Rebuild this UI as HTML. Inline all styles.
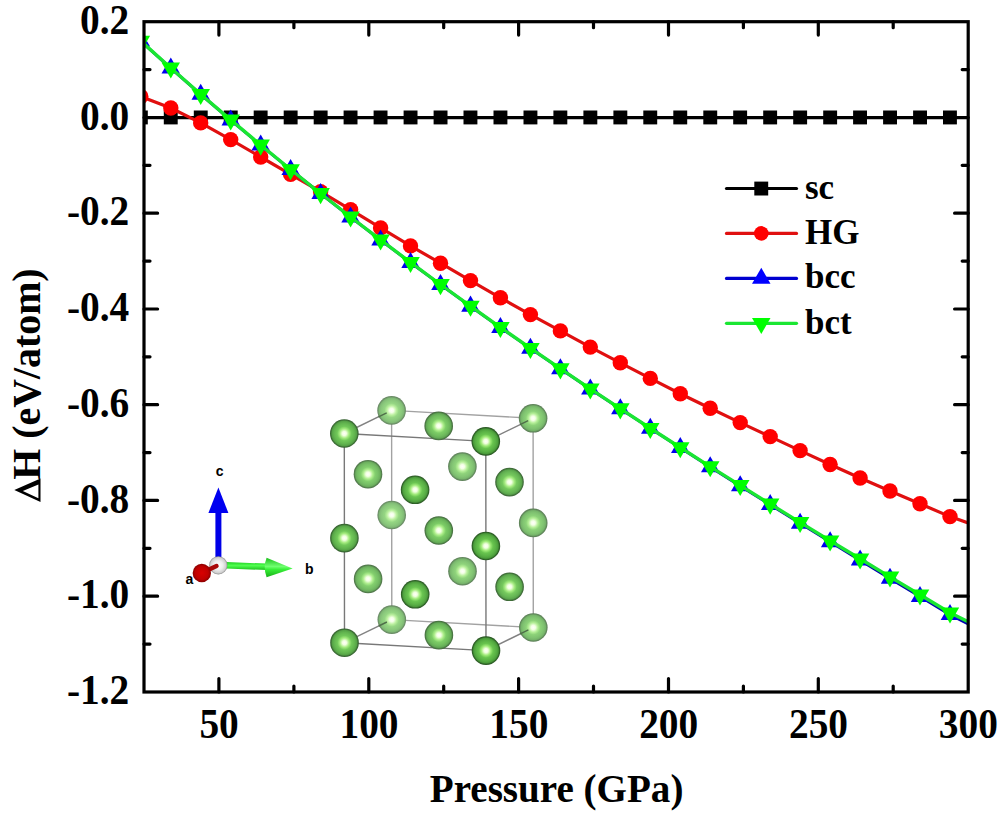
<!DOCTYPE html>
<html><head><meta charset="utf-8"><style>
html,body{margin:0;padding:0;background:#fff;}
svg{display:block;}
</style></head><body>
<svg width="1000" height="815" viewBox="0 0 1000 815">
<defs><radialGradient id="s0" cx="0.5" cy="0.5" r="0.5"><stop offset="0" stop-color="#fffffc"/><stop offset="0.15" stop-color="#f4ffe8"/><stop offset="0.33" stop-color="#bbf09f"/><stop offset="0.5" stop-color="#95d683"/><stop offset="0.72" stop-color="#8ac87c"/><stop offset="0.86" stop-color="#80ba75"/><stop offset="0.92" stop-color="#729c6b"/><stop offset="1.0" stop-color="#648360"/></radialGradient><radialGradient id="s1" cx="0.5" cy="0.5" r="0.5"><stop offset="0" stop-color="#fffffc"/><stop offset="0.15" stop-color="#f4ffe8"/><stop offset="0.33" stop-color="#bbf09f"/><stop offset="0.5" stop-color="#95d683"/><stop offset="0.72" stop-color="#8ac87c"/><stop offset="0.86" stop-color="#80ba75"/><stop offset="0.92" stop-color="#729c6b"/><stop offset="1.0" stop-color="#648360"/></radialGradient><radialGradient id="s2" cx="0.5" cy="0.5" r="0.5"><stop offset="0" stop-color="#fffffc"/><stop offset="0.15" stop-color="#f4ffe8"/><stop offset="0.33" stop-color="#bbf09f"/><stop offset="0.5" stop-color="#95d683"/><stop offset="0.72" stop-color="#8ac87c"/><stop offset="0.86" stop-color="#80ba75"/><stop offset="0.92" stop-color="#729c6b"/><stop offset="1.0" stop-color="#648360"/></radialGradient><radialGradient id="s3" cx="0.5" cy="0.5" r="0.5"><stop offset="0" stop-color="#fffffb"/><stop offset="0.15" stop-color="#f4ffe6"/><stop offset="0.33" stop-color="#b7ef99"/><stop offset="0.5" stop-color="#8fd37b"/><stop offset="0.72" stop-color="#83c474"/><stop offset="0.86" stop-color="#78b56c"/><stop offset="0.92" stop-color="#699662"/><stop offset="1.0" stop-color="#5a7b56"/></radialGradient><radialGradient id="s4" cx="0.5" cy="0.5" r="0.5"><stop offset="0" stop-color="#fffffb"/><stop offset="0.15" stop-color="#f4ffe6"/><stop offset="0.33" stop-color="#b7ef99"/><stop offset="0.5" stop-color="#8fd37b"/><stop offset="0.72" stop-color="#83c474"/><stop offset="0.86" stop-color="#78b56c"/><stop offset="0.92" stop-color="#699662"/><stop offset="1.0" stop-color="#5a7b56"/></radialGradient><radialGradient id="s5" cx="0.5" cy="0.5" r="0.5"><stop offset="0" stop-color="#fffffb"/><stop offset="0.15" stop-color="#f4ffe6"/><stop offset="0.33" stop-color="#b5ef97"/><stop offset="0.5" stop-color="#8cd278"/><stop offset="0.72" stop-color="#80c371"/><stop offset="0.86" stop-color="#75b469"/><stop offset="0.92" stop-color="#66945f"/><stop offset="1.0" stop-color="#577852"/></radialGradient><radialGradient id="s6" cx="0.5" cy="0.5" r="0.5"><stop offset="0" stop-color="#fffffb"/><stop offset="0.15" stop-color="#f4ffe6"/><stop offset="0.33" stop-color="#b5ef97"/><stop offset="0.5" stop-color="#8cd278"/><stop offset="0.72" stop-color="#80c371"/><stop offset="0.86" stop-color="#75b469"/><stop offset="0.92" stop-color="#66945f"/><stop offset="1.0" stop-color="#577852"/></radialGradient><radialGradient id="s7" cx="0.5" cy="0.5" r="0.5"><stop offset="0" stop-color="#fffffb"/><stop offset="0.15" stop-color="#f4ffe6"/><stop offset="0.33" stop-color="#b5ef97"/><stop offset="0.5" stop-color="#8cd278"/><stop offset="0.72" stop-color="#80c371"/><stop offset="0.86" stop-color="#75b469"/><stop offset="0.92" stop-color="#66945f"/><stop offset="1.0" stop-color="#577852"/></radialGradient><radialGradient id="s8" cx="0.5" cy="0.5" r="0.5"><stop offset="0" stop-color="#fffffb"/><stop offset="0.15" stop-color="#f3ffe4"/><stop offset="0.33" stop-color="#afee8f"/><stop offset="0.5" stop-color="#83cf6e"/><stop offset="0.72" stop-color="#76be66"/><stop offset="0.86" stop-color="#6bae5d"/><stop offset="0.92" stop-color="#5a8b52"/><stop offset="1.0" stop-color="#4a6e45"/></radialGradient><radialGradient id="s9" cx="0.5" cy="0.5" r="0.5"><stop offset="0" stop-color="#fffffb"/><stop offset="0.15" stop-color="#f3ffe4"/><stop offset="0.33" stop-color="#afee8f"/><stop offset="0.5" stop-color="#83cf6e"/><stop offset="0.72" stop-color="#76be66"/><stop offset="0.86" stop-color="#6bae5d"/><stop offset="0.92" stop-color="#5a8b52"/><stop offset="1.0" stop-color="#4a6e45"/></radialGradient><radialGradient id="s10" cx="0.5" cy="0.5" r="0.5"><stop offset="0" stop-color="#fffffb"/><stop offset="0.15" stop-color="#f2ffe2"/><stop offset="0.33" stop-color="#abed88"/><stop offset="0.5" stop-color="#7ccc66"/><stop offset="0.72" stop-color="#6fbb5d"/><stop offset="0.86" stop-color="#62a955"/><stop offset="0.92" stop-color="#518548"/><stop offset="1.0" stop-color="#40663b"/></radialGradient><radialGradient id="s11" cx="0.5" cy="0.5" r="0.5"><stop offset="0" stop-color="#fffffb"/><stop offset="0.15" stop-color="#f2ffe2"/><stop offset="0.33" stop-color="#abed88"/><stop offset="0.5" stop-color="#7ccc66"/><stop offset="0.72" stop-color="#6fbb5d"/><stop offset="0.86" stop-color="#62a955"/><stop offset="0.92" stop-color="#518548"/><stop offset="1.0" stop-color="#40663b"/></radialGradient><radialGradient id="s12" cx="0.5" cy="0.5" r="0.5"><stop offset="0" stop-color="#fffffb"/><stop offset="0.15" stop-color="#f2ffe2"/><stop offset="0.33" stop-color="#abed88"/><stop offset="0.5" stop-color="#7ccc66"/><stop offset="0.72" stop-color="#6fbb5d"/><stop offset="0.86" stop-color="#62a955"/><stop offset="0.92" stop-color="#518548"/><stop offset="1.0" stop-color="#40663b"/></radialGradient><radialGradient id="s13" cx="0.5" cy="0.5" r="0.5"><stop offset="0" stop-color="#fffffa"/><stop offset="0.15" stop-color="#f1ffe1"/><stop offset="0.33" stop-color="#a7ec82"/><stop offset="0.5" stop-color="#76c95e"/><stop offset="0.72" stop-color="#67b755"/><stop offset="0.86" stop-color="#5aa54c"/><stop offset="0.92" stop-color="#487f3f"/><stop offset="1.0" stop-color="#365e30"/></radialGradient><radialGradient id="s14" cx="0.5" cy="0.5" r="0.5"><stop offset="0" stop-color="#fffffa"/><stop offset="0.15" stop-color="#f1ffe1"/><stop offset="0.33" stop-color="#a7ec82"/><stop offset="0.5" stop-color="#76c95e"/><stop offset="0.72" stop-color="#67b755"/><stop offset="0.86" stop-color="#5aa54c"/><stop offset="0.92" stop-color="#487f3f"/><stop offset="1.0" stop-color="#365e30"/></radialGradient><radialGradient id="s15" cx="0.5" cy="0.5" r="0.5"><stop offset="0" stop-color="#fffffa"/><stop offset="0.15" stop-color="#f1ffe0"/><stop offset="0.33" stop-color="#a4eb7e"/><stop offset="0.5" stop-color="#71c859"/><stop offset="0.72" stop-color="#62b54f"/><stop offset="0.86" stop-color="#55a246"/><stop offset="0.92" stop-color="#427a39"/><stop offset="1.0" stop-color="#2f592a"/></radialGradient><radialGradient id="s16" cx="0.5" cy="0.5" r="0.5"><stop offset="0" stop-color="#fffffa"/><stop offset="0.15" stop-color="#f1ffe0"/><stop offset="0.33" stop-color="#a4eb7e"/><stop offset="0.5" stop-color="#71c859"/><stop offset="0.72" stop-color="#62b54f"/><stop offset="0.86" stop-color="#55a246"/><stop offset="0.92" stop-color="#427a39"/><stop offset="1.0" stop-color="#2f592a"/></radialGradient><radialGradient id="s17" cx="0.5" cy="0.5" r="0.5"><stop offset="0" stop-color="#fffffa"/><stop offset="0.15" stop-color="#f1ffe0"/><stop offset="0.33" stop-color="#a4eb7e"/><stop offset="0.5" stop-color="#71c859"/><stop offset="0.72" stop-color="#62b54f"/><stop offset="0.86" stop-color="#55a246"/><stop offset="0.92" stop-color="#427a39"/><stop offset="1.0" stop-color="#2f592a"/></radialGradient><radialGradient id="s18" cx="0.5" cy="0.5" r="0.5"><stop offset="0" stop-color="#fffffa"/><stop offset="0.15" stop-color="#f0ffde"/><stop offset="0.33" stop-color="#9fea78"/><stop offset="0.5" stop-color="#6ac551"/><stop offset="0.72" stop-color="#5bb147"/><stop offset="0.86" stop-color="#4d9d3d"/><stop offset="0.92" stop-color="#39742f"/><stop offset="1.0" stop-color="#25511f"/></radialGradient><radialGradient id="s19" cx="0.5" cy="0.5" r="0.5"><stop offset="0" stop-color="#fffffa"/><stop offset="0.15" stop-color="#f0ffde"/><stop offset="0.33" stop-color="#9fea78"/><stop offset="0.5" stop-color="#6ac551"/><stop offset="0.72" stop-color="#5bb147"/><stop offset="0.86" stop-color="#4d9d3d"/><stop offset="0.92" stop-color="#39742f"/><stop offset="1.0" stop-color="#25511f"/></radialGradient><radialGradient id="s20" cx="0.5" cy="0.5" r="0.5"><stop offset="0" stop-color="#fffffa"/><stop offset="0.15" stop-color="#f0ffde"/><stop offset="0.33" stop-color="#9eea76"/><stop offset="0.5" stop-color="#68c44e"/><stop offset="0.72" stop-color="#58b044"/><stop offset="0.86" stop-color="#4a9c3a"/><stop offset="0.92" stop-color="#36722c"/><stop offset="1.0" stop-color="#224e1c"/></radialGradient><radialGradient id="s21" cx="0.5" cy="0.5" r="0.5"><stop offset="0" stop-color="#fffffa"/><stop offset="0.15" stop-color="#f0ffde"/><stop offset="0.33" stop-color="#9eea76"/><stop offset="0.5" stop-color="#68c44e"/><stop offset="0.72" stop-color="#58b044"/><stop offset="0.86" stop-color="#4a9c3a"/><stop offset="0.92" stop-color="#36722c"/><stop offset="1.0" stop-color="#224e1c"/></radialGradient><radialGradient id="s22" cx="0.5" cy="0.5" r="0.5"><stop offset="0" stop-color="#fffffa"/><stop offset="0.15" stop-color="#f0ffde"/><stop offset="0.33" stop-color="#9eea76"/><stop offset="0.5" stop-color="#68c44e"/><stop offset="0.72" stop-color="#58b044"/><stop offset="0.86" stop-color="#4a9c3a"/><stop offset="0.92" stop-color="#36722c"/><stop offset="1.0" stop-color="#224e1c"/></radialGradient>
<linearGradient id="gh" x1="0" y1="0" x2="0" y2="1"><stop offset="0" stop-color="#1cc01c"/><stop offset="0.45" stop-color="#70ff70"/><stop offset="0.6" stop-color="#38f038"/><stop offset="1" stop-color="#18b018"/></linearGradient>
<linearGradient id="gs" gradientUnits="userSpaceOnUse" x1="0" y1="562" x2="0" y2="570"><stop offset="0" stop-color="#22d022"/><stop offset="0.45" stop-color="#50ff50"/><stop offset="1" stop-color="#1cc01c"/></linearGradient>
<radialGradient id="gw" cx="0.5" cy="0.5" r="0.5">
 <stop offset="0" stop-color="#ffffff"/><stop offset="0.5" stop-color="#eeeeee"/><stop offset="0.85" stop-color="#cfcfcf"/><stop offset="1" stop-color="#8a8a8a"/>
</radialGradient>
<radialGradient id="gr" cx="0.5" cy="0.5" r="0.5">
 <stop offset="0" stop-color="#d80000"/><stop offset="0.7" stop-color="#c00000"/><stop offset="1" stop-color="#8a0000"/>
</radialGradient>

<clipPath id="pc"><rect x="144.0" y="21.7" width="824.2" height="670.3"/></clipPath>
</defs>
<rect width="1000" height="815" fill="#fff"/>

<path d="M391.6,410.4L533.1,418.3M533.1,418.3L533.3,627.5M533.3,627.5L391.8,619.6M391.8,619.6L391.6,410.4" stroke="#a2a2a2" stroke-width="1.4" fill="none"/>
<path d="M344.3,433.5L391.6,410.4M485.8,441.4L533.1,418.3M486.0,650.6L533.3,627.5M344.5,642.7L391.8,619.6" stroke="#828282" stroke-width="1.4" fill="none"/>
<path d="M344.3,433.5L485.8,441.4M485.8,441.4L486.0,650.6M486.0,650.6L344.5,642.7M344.5,642.7L344.3,433.5" stroke="#787878" stroke-width="1.4" fill="none"/>
<circle cx="391.6" cy="410.4" r="14.3" fill="url(#s0)"/><circle cx="391.7" cy="515.0" r="14.3" fill="url(#s1)"/><circle cx="391.8" cy="619.6" r="14.3" fill="url(#s2)"/><circle cx="462.4" cy="466.6" r="14.3" fill="url(#s3)"/><circle cx="462.5" cy="571.2" r="14.3" fill="url(#s4)"/><circle cx="533.1" cy="418.3" r="14.3" fill="url(#s5)"/><circle cx="533.2" cy="522.9" r="14.3" fill="url(#s6)"/><circle cx="533.3" cy="627.5" r="14.3" fill="url(#s7)"/><circle cx="368.0" cy="474.2" r="14.3" fill="url(#s8)"/><circle cx="368.1" cy="578.9" r="14.3" fill="url(#s9)"/><circle cx="438.7" cy="425.9" r="14.3" fill="url(#s10)"/><circle cx="438.9" cy="635.1" r="14.3" fill="url(#s11)"/><circle cx="438.8" cy="530.5" r="14.3" fill="url(#s12)"/><circle cx="509.5" cy="482.1" r="14.3" fill="url(#s13)"/><circle cx="509.6" cy="586.8" r="14.3" fill="url(#s14)"/><circle cx="344.3" cy="433.5" r="14.3" fill="url(#s15)"/><circle cx="344.4" cy="538.1" r="14.3" fill="url(#s16)"/><circle cx="344.5" cy="642.7" r="14.3" fill="url(#s17)"/><circle cx="415.1" cy="489.8" r="14.3" fill="url(#s18)"/><circle cx="415.2" cy="594.3" r="14.3" fill="url(#s19)"/><circle cx="485.8" cy="441.4" r="14.3" fill="url(#s20)"/><circle cx="485.9" cy="546.0" r="14.3" fill="url(#s21)"/><circle cx="486.0" cy="650.6" r="14.3" fill="url(#s22)"/>
<path d="M378.5,416.8L386.7,412.8M520.0,424.7L528.2,420.7M520.2,633.9L528.4,629.9M378.7,626.0L386.9,622.0" stroke="#4f6e49" stroke-width="1.4" fill="none"/>


<path d="M218.4,557 V512" stroke="#0000e8" stroke-width="6"/>
<polygon points="218.4,487.6 228.4,513 208.4,513" fill="#0000f0"/>
<path d="M226,565.3 L267,566.8" stroke="url(#gs)" stroke-width="6.5"/>
<path d="M266.6,557.8 Q262.8,567.4 266.6,577.2 L292.6,568.4 Z" fill="url(#gh)"/>
<circle cx="218.3" cy="565.3" r="9.1" fill="url(#gw)"/>
<path d="M216.5,566 L208,570" stroke="#a80808" stroke-width="4.4" stroke-linecap="round"/>
<circle cx="201.8" cy="573" r="9.2" fill="url(#gr)"/>
<g font-family="Liberation Sans, sans-serif" font-weight="bold" font-size="14" fill="#000">
<text x="219.6" y="476" text-anchor="middle">c</text>
<text x="309.2" y="574" text-anchor="middle">b</text>
<text x="189.4" y="584" text-anchor="middle">a</text>
</g>

<g clip-path="url(#pc)">
<polyline points="140,117.6 972,117.6" fill="none" stroke="#000" stroke-width="3.2"/>
<g fill="#000"><rect x="133.9" y="110.5" width="13.9" height="13.9"/><rect x="163.8" y="110.5" width="13.9" height="13.9"/><rect x="193.8" y="110.5" width="13.9" height="13.9"/><rect x="223.8" y="110.5" width="13.9" height="13.9"/><rect x="253.7" y="110.5" width="13.9" height="13.9"/><rect x="283.7" y="110.5" width="13.9" height="13.9"/><rect x="313.7" y="110.5" width="13.9" height="13.9"/><rect x="343.6" y="110.5" width="13.9" height="13.9"/><rect x="373.6" y="110.5" width="13.9" height="13.9"/><rect x="403.6" y="110.5" width="13.9" height="13.9"/><rect x="433.6" y="110.5" width="13.9" height="13.9"/><rect x="463.5" y="110.5" width="13.9" height="13.9"/><rect x="493.5" y="110.5" width="13.9" height="13.9"/><rect x="523.5" y="110.5" width="13.9" height="13.9"/><rect x="553.4" y="110.5" width="13.9" height="13.9"/><rect x="583.4" y="110.5" width="13.9" height="13.9"/><rect x="613.4" y="110.5" width="13.9" height="13.9"/><rect x="643.3" y="110.5" width="13.9" height="13.9"/><rect x="673.3" y="110.5" width="13.9" height="13.9"/><rect x="703.3" y="110.5" width="13.9" height="13.9"/><rect x="733.2" y="110.5" width="13.9" height="13.9"/><rect x="763.2" y="110.5" width="13.9" height="13.9"/><rect x="793.2" y="110.5" width="13.9" height="13.9"/><rect x="823.2" y="110.5" width="13.9" height="13.9"/><rect x="853.1" y="110.5" width="13.9" height="13.9"/><rect x="883.1" y="110.5" width="13.9" height="13.9"/><rect x="913.1" y="110.5" width="13.9" height="13.9"/><rect x="943.0" y="110.5" width="13.9" height="13.9"/></g>
<polyline points="140.8,96.5 170.8,108.0 200.7,122.9 230.7,139.6 260.7,157.0 290.6,174.4 320.6,191.7 350.6,209.7 380.6,227.9 410.5,245.9 440.5,263.2 470.5,280.6 500.4,297.8 530.4,314.6 560.4,330.9 590.3,347.1 620.3,362.8 650.3,378.4 680.3,393.7 710.2,408.3 740.2,422.6 770.2,436.6 800.1,450.6 830.1,464.5 860.1,478.0 890.0,491.0 920.0,503.8 950.0,516.6 970.7,523.9" fill="none" stroke="#e01010" stroke-width="3.2" stroke-linejoin="round"/>
<g fill="#ff0000"><circle cx="140.8" cy="96.5" r="7.7"/><circle cx="170.8" cy="108.0" r="7.7"/><circle cx="200.7" cy="122.9" r="7.7"/><circle cx="230.7" cy="139.6" r="7.7"/><circle cx="260.7" cy="157.0" r="7.7"/><circle cx="290.6" cy="174.4" r="7.7"/><circle cx="320.6" cy="191.7" r="7.7"/><circle cx="350.6" cy="209.7" r="7.7"/><circle cx="380.6" cy="227.9" r="7.7"/><circle cx="410.5" cy="245.9" r="7.7"/><circle cx="440.5" cy="263.2" r="7.7"/><circle cx="470.5" cy="280.6" r="7.7"/><circle cx="500.4" cy="297.8" r="7.7"/><circle cx="530.4" cy="314.6" r="7.7"/><circle cx="560.4" cy="330.9" r="7.7"/><circle cx="590.3" cy="347.1" r="7.7"/><circle cx="620.3" cy="362.8" r="7.7"/><circle cx="650.3" cy="378.4" r="7.7"/><circle cx="680.3" cy="393.7" r="7.7"/><circle cx="710.2" cy="408.3" r="7.7"/><circle cx="740.2" cy="422.6" r="7.7"/><circle cx="770.2" cy="436.6" r="7.7"/><circle cx="800.1" cy="450.6" r="7.7"/><circle cx="830.1" cy="464.5" r="7.7"/><circle cx="860.1" cy="478.0" r="7.7"/><circle cx="890.0" cy="491.0" r="7.7"/><circle cx="920.0" cy="503.8" r="7.7"/><circle cx="950.0" cy="516.6" r="7.7"/></g>
<polyline points="140.8,41.2 170.8,68.1 200.7,94.4 230.7,120.1 260.7,145.2 290.6,169.7 320.6,193.7 350.6,217.2 380.6,240.1 410.5,262.6 440.5,284.7 470.5,306.3 500.4,327.6 530.4,348.4 560.4,368.9 590.3,389.0 620.3,408.9 650.3,428.4 680.3,447.7 710.2,467.0 740.2,486.0 770.2,504.8 800.1,523.4 830.1,541.9 860.1,560.2 890.0,578.5 920.0,596.6 950.0,614.7 970.7,625.2" fill="none" stroke="#0000b0" stroke-width="2.8" stroke-linejoin="round"/>
<g fill="#0000ee"><polygon points="140.8,30.6 150.1,46.6 131.6,46.6"/><polygon points="170.8,57.5 180.0,73.5 161.5,73.5"/><polygon points="200.7,83.7 210.0,99.8 191.5,99.8"/><polygon points="230.7,109.4 240.0,125.4 221.5,125.4"/><polygon points="260.7,134.5 269.9,150.5 251.4,150.5"/><polygon points="290.6,159.0 299.9,175.0 281.4,175.0"/><polygon points="320.6,183.0 329.9,199.0 311.4,199.0"/><polygon points="350.6,206.5 359.8,222.5 341.3,222.5"/><polygon points="380.6,229.4 389.8,245.5 371.3,245.5"/><polygon points="410.5,252.0 419.8,268.0 401.3,268.0"/><polygon points="440.5,274.0 449.8,290.0 431.2,290.0"/><polygon points="470.5,295.6 479.7,311.7 461.2,311.7"/><polygon points="500.4,316.9 509.7,332.9 491.2,332.9"/><polygon points="530.4,337.7 539.7,353.7 521.2,353.7"/><polygon points="560.4,358.2 569.6,374.2 551.1,374.2"/><polygon points="590.3,378.4 599.6,394.4 581.1,394.4"/><polygon points="620.3,398.2 629.6,414.2 611.1,414.2"/><polygon points="650.3,417.8 659.5,433.8 641.0,433.8"/><polygon points="680.3,437.0 689.5,453.1 671.0,453.1"/><polygon points="710.2,456.3 719.5,472.3 701.0,472.3"/><polygon points="740.2,475.3 749.5,491.3 731.0,491.3"/><polygon points="770.2,494.1 779.4,510.1 760.9,510.1"/><polygon points="800.1,512.7 809.4,528.8 790.9,528.8"/><polygon points="830.1,531.2 839.4,547.2 820.9,547.2"/><polygon points="860.1,549.6 869.3,565.6 850.8,565.6"/><polygon points="890.0,567.8 899.3,583.8 880.8,583.8"/><polygon points="920.0,586.0 929.3,602.0 910.8,602.0"/><polygon points="950.0,604.0 959.2,620.1 940.7,620.1"/></g>
<polyline points="140.8,41.0 170.8,67.9 200.7,94.2 230.7,119.9 260.7,145.0 290.6,169.5 320.6,193.5 350.6,217.0 380.6,239.9 410.5,262.4 440.5,284.5 470.5,306.1 500.4,327.4 530.4,348.2 560.4,368.7 590.3,388.8 620.3,408.7 650.3,428.2 680.3,447.5 710.2,466.6 740.2,485.4 770.2,504.0 800.1,522.4 830.1,540.7 860.1,558.8 890.0,576.9 920.0,594.8 950.0,612.7 970.7,623.0" fill="none" stroke="#1ae632" stroke-width="3.4" stroke-linejoin="round"/>
<g fill="#00ff00"><polygon points="131.6,35.7 150.1,35.7 140.8,51.7"/><polygon points="161.5,62.6 180.0,62.6 170.8,78.6"/><polygon points="191.5,88.9 210.0,88.9 200.7,104.9"/><polygon points="221.5,114.5 240.0,114.5 230.7,130.6"/><polygon points="251.4,139.6 269.9,139.6 260.7,155.7"/><polygon points="281.4,164.2 299.9,164.2 290.6,180.2"/><polygon points="311.4,188.1 329.9,188.1 320.6,204.2"/><polygon points="341.3,211.6 359.8,211.6 350.6,227.6"/><polygon points="371.3,234.6 389.8,234.6 380.6,250.6"/><polygon points="401.3,257.1 419.8,257.1 410.5,273.1"/><polygon points="431.2,279.1 449.8,279.1 440.5,295.2"/><polygon points="461.2,300.8 479.7,300.8 470.5,316.8"/><polygon points="491.2,322.0 509.7,322.0 500.4,338.0"/><polygon points="521.2,342.9 539.7,342.9 530.4,358.9"/><polygon points="551.1,363.3 569.6,363.3 560.4,379.4"/><polygon points="581.1,383.5 599.6,383.5 590.3,399.5"/><polygon points="611.1,403.3 629.6,403.3 620.3,419.4"/><polygon points="641.0,422.9 659.5,422.9 650.3,438.9"/><polygon points="671.0,442.2 689.5,442.2 680.3,458.2"/><polygon points="701.0,461.2 719.5,461.2 710.2,477.2"/><polygon points="731.0,480.0 749.5,480.0 740.2,496.1"/><polygon points="760.9,498.6 779.4,498.6 770.2,514.7"/><polygon points="790.9,517.1 809.4,517.1 800.1,533.1"/><polygon points="820.9,535.4 839.4,535.4 830.1,551.4"/><polygon points="850.8,553.5 869.3,553.5 860.1,569.5"/><polygon points="880.8,571.5 899.3,571.5 890.0,587.6"/><polygon points="910.8,589.5 929.3,589.5 920.0,605.5"/><polygon points="940.7,607.4 959.2,607.4 950.0,623.4"/></g>
</g>
<rect x="144.0" y="21.7" width="824.2" height="670.3" fill="none" stroke="#000" stroke-width="3.2"/>
<path d="M218.9,692.0v-13.4M218.9,21.7v13.4M293.9,692.0v-6M293.9,21.7v6M368.8,692.0v-13.4M368.8,21.7v13.4M443.7,692.0v-6M443.7,21.7v6M518.6,692.0v-13.4M518.6,21.7v13.4M593.5,692.0v-6M593.5,21.7v6M668.5,692.0v-13.4M668.5,21.7v13.4M743.4,692.0v-6M743.4,21.7v6M818.3,692.0v-13.4M818.3,21.7v13.4M893.2,692.0v-6M893.2,21.7v6M144.0,69.6h6M968.2,69.6h-6M144.0,117.5h13.6M968.2,117.5h-13.6M144.0,165.3h6M968.2,165.3h-6M144.0,213.2h13.6M968.2,213.2h-13.6M144.0,261.1h6M968.2,261.1h-6M144.0,309.0h13.6M968.2,309.0h-13.6M144.0,356.8h6M968.2,356.8h-6M144.0,404.7h13.6M968.2,404.7h-13.6M144.0,452.6h6M968.2,452.6h-6M144.0,500.4h13.6M968.2,500.4h-13.6M144.0,548.3h6M968.2,548.3h-6M144.0,596.2h13.6M968.2,596.2h-13.6M144.0,644.1h6M968.2,644.1h-6" stroke="#000" stroke-width="3.2" stroke-linecap="round" fill="none"/>

<g stroke-width="3.2" stroke-linecap="round">
<path d="M726.5,188.5H796.5" stroke="#000"/>
<path d="M726.5,233.4H796.5" stroke="#e01010"/>
<path d="M726.5,278.4H796.5" stroke="#0000d0"/>
<path d="M726.5,323.3H796.5" stroke="#1ae632"/>
</g>
<g fill="#000"><rect x="754.3" y="181.6" width="13.9" height="13.9"/></g>
<g fill="#ff0000"><circle cx="761.3" cy="233.4" r="7.3"/></g>
<g fill="#0000ff"><polygon points="761.3,267.7 770.5,283.7 752.0,283.7"/></g>
<g fill="#00ff00"><polygon points="752.0,318.0 770.5,318.0 761.3,334.0"/></g>
<g font-family="Liberation Serif, serif" font-weight="bold" font-size="35" fill="#000">
<text x="805" y="198.5">sc</text>
<text x="805" y="243.5">HG</text>
<text x="805" y="288.3">bcc</text>
<text x="805" y="333.5">bct</text>
</g>

<g font-family="Liberation Serif, serif" font-weight="bold" font-size="41.5" fill="#000">
<text transform="translate(129.3,33.8) scale(0.95,1)" text-anchor="end">0.2</text><text transform="translate(129.3,129.6) scale(0.95,1)" text-anchor="end">0.0</text><text transform="translate(129.3,225.3) scale(0.95,1)" text-anchor="end">-0.2</text><text transform="translate(129.3,321.1) scale(0.95,1)" text-anchor="end">-0.4</text><text transform="translate(129.3,416.8) scale(0.95,1)" text-anchor="end">-0.6</text><text transform="translate(129.3,512.5) scale(0.95,1)" text-anchor="end">-0.8</text><text transform="translate(129.3,608.3) scale(0.95,1)" text-anchor="end">-1.0</text><text transform="translate(129.3,704.1) scale(0.95,1)" text-anchor="end">-1.2</text>
<text transform="translate(219.1,737.7) scale(0.95,1)" text-anchor="middle">50</text><text transform="translate(369.0,737.7) scale(0.95,1)" text-anchor="middle">100</text><text transform="translate(518.8,737.7) scale(0.95,1)" text-anchor="middle">150</text><text transform="translate(668.7,737.7) scale(0.95,1)" text-anchor="middle">200</text><text transform="translate(818.5,737.7) scale(0.95,1)" text-anchor="middle">250</text><text transform="translate(968.4,737.7) scale(0.95,1)" text-anchor="middle">300</text>
</g>
<text transform="translate(556.6,801.8) scale(0.956,1)" text-anchor="middle" font-family="Liberation Serif, serif" font-weight="bold" font-size="40.9">Pressure (GPa)</text>
<path d="M14.3,490 L40.5,478.6 L40.5,502 Z M22.8,491 L38.4,498.2 L38.4,484.6 Z" fill="#000" fill-rule="evenodd"/>
<text transform="translate(40.4,479.8) rotate(-90) scale(0.975,1)" font-family="Liberation Serif, serif" font-weight="bold" font-size="40.9">H (eV/atom)</text>
</svg>
</body></html>
